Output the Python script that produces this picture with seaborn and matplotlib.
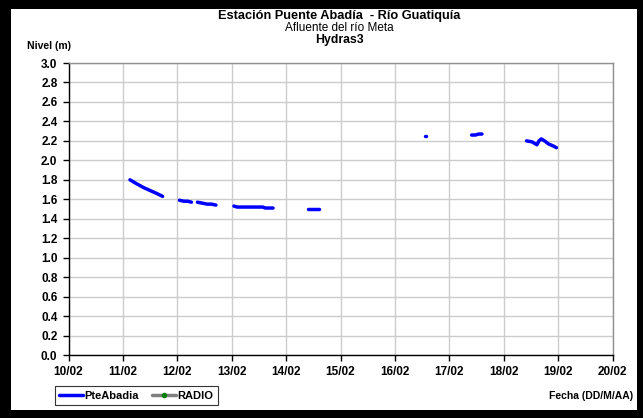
import numpy as np
import pandas as pd
import seaborn as sns
import matplotlib.pyplot as plt
from matplotlib.lines import Line2D
from matplotlib.patches import Rectangle

# dia de febrero (fraccion) y nivel (m) por tramo de registro
tramo_1_dia = [11.13, 11.25, 11.38, 11.50, 11.62, 11.73]
tramo_1_nivel = [1.80, 1.76, 1.72, 1.69, 1.66, 1.63]
tramo_2_dia = [12.04, 12.12, 12.19, 12.26]
tramo_2_nivel = [1.59, 1.58, 1.58, 1.57]
tramo_3_dia = [12.37, 12.46, 12.55, 12.63, 12.71]
tramo_3_nivel = [1.57, 1.56, 1.55, 1.55, 1.54]
tramo_4_dia = [13.04, 13.10, 13.30, 13.57, 13.62, 13.76]
tramo_4_nivel = [1.53, 1.52, 1.52, 1.52, 1.51, 1.51]
tramo_5_dia = [14.41, 14.61]
tramo_5_nivel = [1.50, 1.50]
tramo_6_dia = [16.55, 16.58]
tramo_6_nivel = [2.25, 2.25]
tramo_7_dia = [17.41, 17.48, 17.54, 17.60]
tramo_7_nivel = [2.26, 2.26, 2.27, 2.27]
tramo_8_dia = [18.42, 18.52, 18.61, 18.65, 18.69, 18.75, 18.82, 18.90, 18.97]
tramo_8_nivel = [2.20, 2.19, 2.16, 2.20, 2.22, 2.20, 2.17, 2.15, 2.13]

radio_dia = []
radio_nivel = []

dias_ticks = list(range(10, 21))
etiquetas_x = [f"{d:02d}/02" for d in dias_ticks]

tramos = [(tramo_1_dia, tramo_1_nivel), (tramo_2_dia, tramo_2_nivel),
          (tramo_3_dia, tramo_3_nivel), (tramo_4_dia, tramo_4_nivel),
          (tramo_5_dia, tramo_5_nivel), (tramo_6_dia, tramo_6_nivel),
          (tramo_7_dia, tramo_7_nivel), (tramo_8_dia, tramo_8_nivel)]
filas = []
for i, (d, n) in enumerate(tramos):
    for a, b in zip(d, n):
        filas.append((i, a, b))
df = pd.DataFrame(filas, columns=["tramo", "dia", "nivel"])

sns.set_style("white")
plt.rcParams['font.family'] = ['Liberation Sans', 'DejaVu Sans']
plt.rcParams['text.color'] = 'black'
plt.rcParams['xtick.color'] = 'black'
plt.rcParams['ytick.color'] = 'black'
plt.rcParams['axes.labelcolor'] = 'black'

W, H = 643, 418
fig = plt.figure(figsize=(W / 100, H / 100), dpi=100, facecolor="black")
fondo = Rectangle((11 / W, 1 - 410 / H), (637 - 11) / W, (410 - 9) / H,
                  transform=fig.transFigure, facecolor="white",
                  edgecolor="none", zorder=-10)
fig.patches.append(fondo)
ax = fig.add_axes([68.5 / W, 1 - 355 / H, (612.5 - 68.5) / W, (355 - 63) / H])
ax.set_facecolor("white")

sns.lineplot(data=df, x="dia", y="nivel", units="tramo", estimator=None,
             sort=False, color="#0000ff", lw=2.5, ax=ax, legend=False)
ax.plot(radio_dia, radio_nivel, color="#808080", lw=2.3, marker="o",
        ms=3, mfc="#008000", mec="#008000")

ax.set_xlim(10, 20)
ax.set_ylim(0, 3.0)
ax.set_xticks(dias_ticks)
ax.set_xticklabels(etiquetas_x)
ax.set_yticks(np.round(np.arange(0, 3.01, 0.2), 1))
ax.set_yticklabels([f"{v:.1f}" for v in np.arange(0, 3.01, 0.2)])
ax.grid(True, color="#cccccc", lw=1.0)
ax.set_axisbelow(True)
ax.set_xlabel("")
ax.set_ylabel("")
for s in ["left", "bottom"]:
    ax.spines[s].set_color("black")
    ax.spines[s].set_linewidth(1.0)
for s in ["top", "right"]:
    ax.spines[s].set_color("#909090")
    ax.spines[s].set_linewidth(1.0)
ax.tick_params(axis="both", direction="out", length=4, width=1, color="black",
               labelcolor="black", labelsize=8.5, pad=4, bottom=True, left=True)
for lab in ax.get_xticklabels() + ax.get_yticklabels():
    lab.set_fontweight("bold")

cx = 339 / W
fig.text(cx, 1 - 16 / H, "Estación Puente Abadía  - Río Guatiquía", ha="center",
         va="center", fontsize=9.2, fontweight="bold", color="black")
fig.text(cx, 1 - 28 / H, "Afluente del río Meta", ha="center", va="center",
         fontsize=8.5, color="black")
fig.text(cx, 1 - 40 / H, "Hydras3", ha="center", va="center", fontsize=8.8,
         fontweight="bold", color="black")
fig.text(27 / W, 1 - 46 / H, "Nivel (m)", ha="left", va="center", fontsize=7.5,
         fontweight="bold", color="black")
fig.text(633 / W, 1 - 396 / H, "Fecha (DD/M/AA)", ha="right", va="center",
         fontsize=7.5, fontweight="bold", color="black")

handles = [Line2D([], [], color="#0000ff", lw=2.5),
           Line2D([], [], color="#808080", lw=2.5, marker="o", ms=3,
                  mfc="#008000", mec="#008000")]
leg = fig.legend(handles, ["PteAbadia", "RADIO"], loc="lower left",
                 bbox_to_anchor=(55 / W, 1 - 405 / H), ncol=2, frameon=True,
                 fancybox=False, edgecolor="black", fontsize=8,
                 handlelength=2.1, handletextpad=0.15, columnspacing=1.2,
                 borderpad=0.4, borderaxespad=0)
leg.get_frame().set_linewidth(0.8)
for t in leg.get_texts():
    t.set_fontweight("bold")
    t.set_color("black")

fig.savefig("out.png", dpi=100, facecolor="black")
